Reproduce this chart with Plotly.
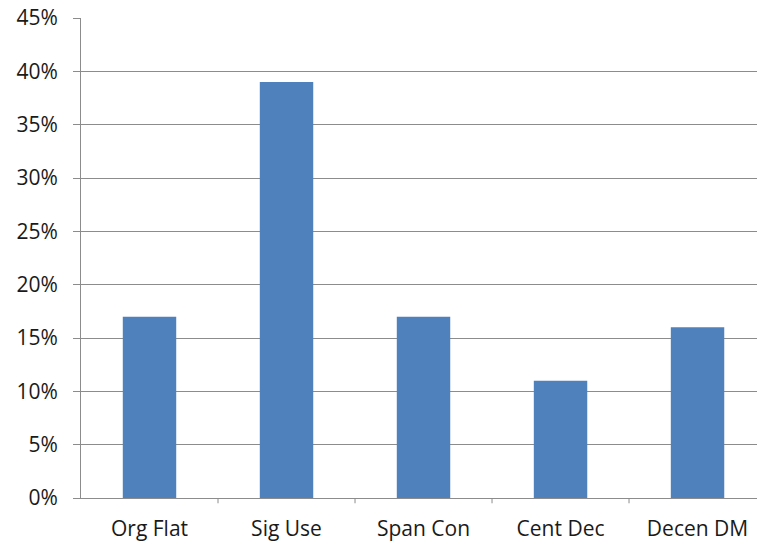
import plotly.graph_objects as go

categories = ["Org Flat", "Sig Use", "Span Con", "Cent Dec", "Decen DM"]
shares = [0.17, 0.39, 0.17, 0.11, 0.16]
y_ticks = [0, 0.05, 0.10, 0.15, 0.20, 0.25, 0.30, 0.35, 0.40, 0.45]
y_tick_text = ["0%", "5%", "10%", "15%", "20%", "25%", "30%", "35%", "40%", "45%"]

fig = go.Figure(
    go.Bar(
        x=list(range(len(categories))),
        y=shares,
        marker=dict(color="#4F81BD", line=dict(width=0)),
        width=0.39,
        hoverinfo="skip",
    )
)

fig.update_layout(
    width=757,
    height=544,
    margin=dict(l=81, r=0, t=18, b=46),
    paper_bgcolor="white",
    plot_bgcolor="white",
    font=dict(family="Open Sans, Liberation Sans, sans-serif", size=21, color="#1a1a1a"),
    showlegend=False,
)

fig.update_xaxes(
    range=[-0.5, 4.434],
    tickmode="array",
    tickvals=list(range(len(categories))),
    ticktext=categories,
    showgrid=False,
    showline=True,
    linecolor="#8c8c8c",
    linewidth=1,
    ticks="",
    ticklabelstandoff=12,
    zeroline=False,
    fixedrange=True,
)

# boundary tick marks between categories
for b in [0.5, 1.5, 2.5, 3.5]:
    fig.add_shape(type="line", xref="x", yref="paper", x0=b, x1=b, y0=0, y1=-0.011,
                  line=dict(color="#8c8c8c", width=1))

fig.update_yaxes(
    range=[0, 0.45],
    tickmode="array",
    tickvals=y_ticks,
    ticktext=y_tick_text,
    showgrid=True,
    gridcolor="#8c8c8c",
    gridwidth=1,
    showline=True,
    linecolor="#8c8c8c",
    linewidth=1,
    ticks="outside",
    ticklen=7,
    tickcolor="#8c8c8c",
    ticklabelstandoff=11,
    zeroline=False,
    fixedrange=True,
)

fig.write_html("out.html")
